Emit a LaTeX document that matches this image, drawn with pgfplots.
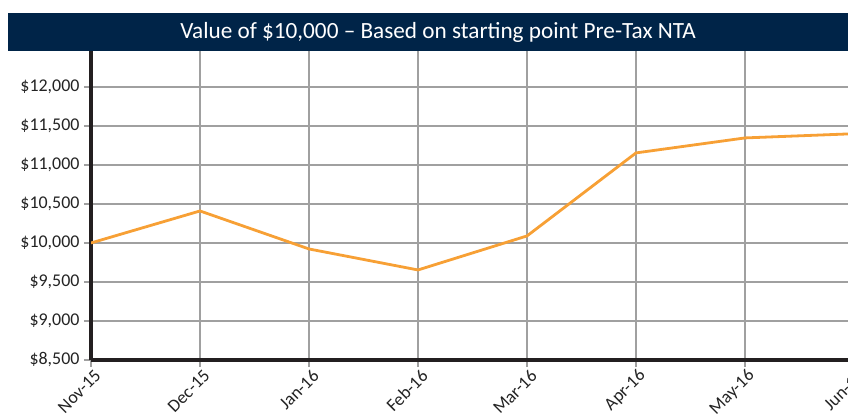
\documentclass[border=0pt]{standalone}
\usepackage{pgfplots}
\pgfplotsset{compat=1.18}
\usepackage{fontspec}
\setmainfont{Carlito}
\definecolor{navy}{RGB}{0,36,72}
\definecolor{lineor}{RGB}{247,160,53}
\definecolor{axblack}{RGB}{35,31,32}
\definecolor{gridg}{RGB}{160,160,160}
\definecolor{txt}{RGB}{35,35,35}
\begin{document}
\begin{tikzpicture}[x=1bp,y=1bp]
\useasboundingbox (0,0) rectangle (848,414);
\begin{axis}[
  at={(91bp,54bp)}, anchor=south west,
  scale only axis, width=763bp, height=309bp,
  xmin=0, xmax=7, ymin=8500, ymax=12460,
  axis x line*=bottom, axis y line*=left,
  axis line style={axblack, line width=4.5bp},
  xtick={0,...,7},
  xticklabels={Nov-15,Dec-15,Jan-16,Feb-16,Mar-16,Apr-16,May-16,Jun-16},
  ytick={8500,9000,...,12000},
  yticklabels={{\$8,500},{\$9,000},{\$9,500},{\$10,000},{\$10,500},{\$11,000},{\$11,500},{\$12,000}},
  grid=major,
  major grid style={gridg, line width=1.3bp},
  tick align=outside,
  major tick length=7bp,
  tick style={gridg, line width=1.3bp},
  /pgf/number format/assume math mode=true,
  tick label style={font=\fontsize{18}{20}\selectfont, text=txt},
  yticklabel style={xshift=-1bp},
  xticklabel style={rotate=45, anchor=east, xshift=4bp, yshift=-9bp},
  clip=true,
]
\addplot[lineor, line width=2.8bp] coordinates {
  (0,10000) (1,10410) (2,9923) (3,9654) (4,10090) (5,11154) (6,11346) (7,11400)
};
\end{axis}
\fill[navy] (8,363) rectangle (870,401);
\node[text=white, font=\fontsize{23.3}{26}\selectfont] at (438,382) {Value of \$10,000 – Based on starting point Pre-Tax NTA};
\end{tikzpicture}
\end{document}
